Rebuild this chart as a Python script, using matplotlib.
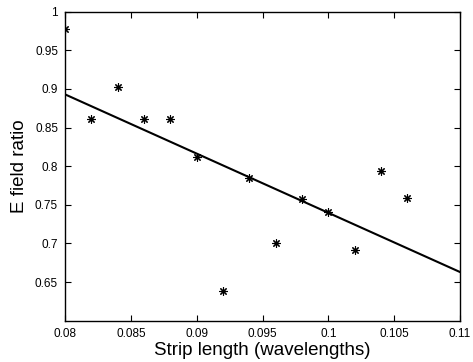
import matplotlib.pyplot as plt
import numpy as np

plt.rcParams['font.family'] = ['Liberation Sans', 'DejaVu Sans']

strip_len = [0.080, 0.082, 0.084, 0.086, 0.088, 0.090, 0.092,
             0.094, 0.096, 0.098, 0.100, 0.102, 0.104, 0.106]
e_ratio = [0.977, 0.861, 0.902, 0.861, 0.861, 0.812, 0.638,
           0.785, 0.700, 0.758, 0.741, 0.692, 0.794, 0.759]
fit_x = [0.080, 0.110]
fit_y = [0.893, 0.663]

fig = plt.figure(figsize=(4.73, 3.62), dpi=100)
ax = fig.add_axes([65/473, 1 - 320.7/362, (460-65)/473, (320.7-11.7)/362])

ax.plot(fit_x, fit_y, color='black', linewidth=1.5)
ax.plot(strip_len, e_ratio, linestyle='none', marker=(8, 2, 0), markersize=6,
        color='black', markeredgewidth=0.8)

ax.set_xlim(0.08, 0.11)
ax.set_ylim(0.6, 1.0)
ax.set_xticks(np.arange(0.08, 0.1101, 0.005))
ax.set_xticklabels(['0.08', '0.085', '0.09', '0.095', '0.1', '0.105', '0.11'])
ax.set_yticks([0.65, 0.7, 0.75, 0.8, 0.85, 0.9, 0.95, 1.0])
ax.set_yticklabels(['0.65', '0.7', '0.75', '0.8', '0.85', '0.9', '0.95', '1'])
ax.tick_params(direction='in', top=True, right=True, length=4, width=0.8,
               labelsize=8.5, pad=5)
for s in ax.spines.values():
    s.set_linewidth(1.0)

ax.set_xlabel('Strip length (wavelengths)', fontsize=13.5, labelpad=2)
ax.set_ylabel('E field ratio', fontsize=13.5, labelpad=5)

fig.savefig('out.png', dpi=100)
